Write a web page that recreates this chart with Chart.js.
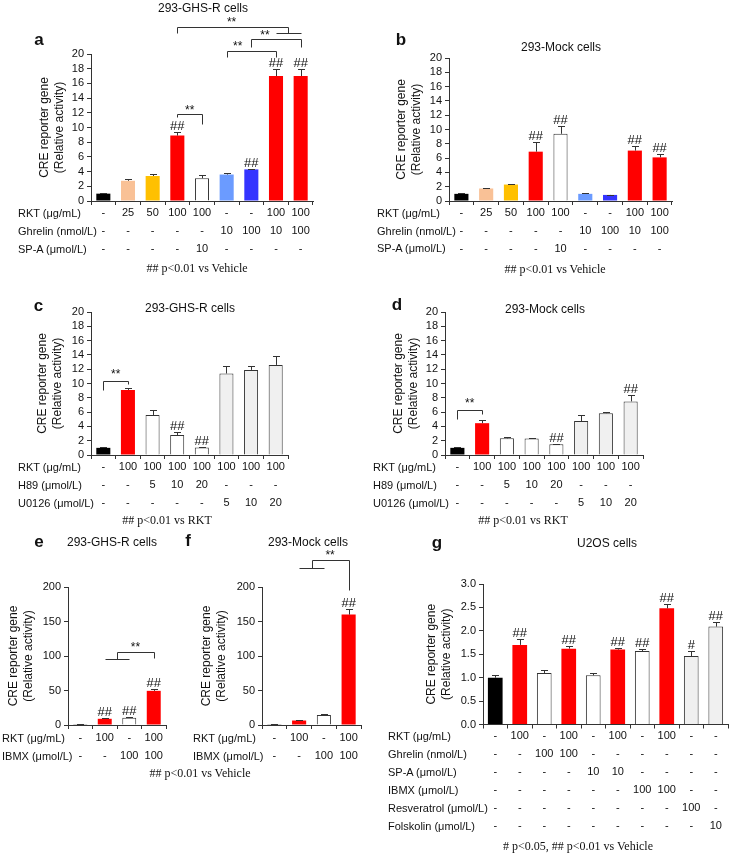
<!DOCTYPE html>
<html><head><meta charset="utf-8">
<script src="https://cdn.jsdelivr.net/npm/chart.js@4.4.1/dist/chart.umd.min.js"></script>
<style>
html,body{margin:0;padding:0;background:#fff;}
body{width:729px;height:853px;position:relative;overflow:hidden;font-family:"Liberation Sans",Arial,sans-serif;color:#111;}
.t{position:absolute;white-space:nowrap;line-height:1;}
.c{transform:translate(-50%,-50%);}
.l{transform:translateY(-50%);}
.letter{font-weight:bold;font-size:17px;}
.title{font-size:12px;}
.row{font-size:11px;}
.foot{font-family:"Liberation Serif","Times New Roman",serif;font-size:12px;}
.wrap{position:absolute;}
</style></head><body>
<script>
// ---------------- DATA ----------------
// Panel a (293-GHS-R cells)
const aRKT     = ['-','25','50','100','100','-','-','100','100'];
const aGhrelin = ['-','-','-','-','-','10','100','10','100'];
const aSPA     = ['-','-','-','-','10','-','-','-','-'];
const aValues  = [1.0, 2.75, 3.4, 8.9, 3.1, 3.6, 4.3, 17.0, 17.0];
const aErrors  = [0.08, 0.25, 0.25, 0.45, 0.45, 0.25, 0.1, 1.0, 1.0];
const aSig     = ['', '', '', '##', '', '', '##', '##', '##'];
// brackets: [fromCat, toCat, level, leftEnd, rightEnd]
const aBrackets = [[3,4,11.8,11.4,10.5],[5,7,20.45,19.6,19.6],[6,8,22.0,21.0,21.0],[3,7.5,23.7,22.9,22.9],[7,8,22.9,22.9,22.9]];
const aStars    = [[3.5,12.8],[5.45,21.5],[6.55,22.95],[5.2,24.8]];

// Panel b (293-Mock cells)
const bValues  = [1.0, 1.75, 2.3, 6.9, 9.4, 1.0, 0.85, 7.05, 6.1];
const bErrors  = [0.1, 0.1, 0.08, 1.3, 1.1, 0.08, 0.05, 0.65, 0.45];
const bSig     = ['', '', '', '##', '##', '', '', '##', '##'];

// Panels c, d conditions
const cdRKT    = ['-','100','100','100','100','100','100','100'];
const cdH89    = ['-','-','5','10','20','-','-','-'];
const cdU0126  = ['-','-','-','-','-','5','10','20'];
const cValues  = [1.0, 9.1, 5.6, 2.8, 1.05, 11.4, 11.9, 12.6];
const cErrors  = [0.1, 0.25, 0.75, 0.45, 0.05, 1.05, 0.6, 1.3];
const cSig     = ['', '', '', '##', '##', '', '', ''];
const cBrackets = [[0,1,10.4,9.1,9.9]];
const cStars    = [[0.5,11.7]];
const dValues  = [1.0, 4.45, 2.33, 2.3, 1.52, 4.75, 5.85, 7.5];
const dErrors  = [0.1, 0.45, 0.25, 0.12, 0.08, 0.85, 0.12, 0.85];
const dSig     = ['', '', '', '', '##', '', '', '##'];
const dBrackets = [[0,1,6.3,5.0,5.7]];
const dStars    = [[0.5,7.7]];

// Panels e, f conditions
const efRKT    = ['-','100','-','100'];
const efIBMX   = ['-','-','100','100'];
const eValues  = [1, 9, 10.5, 49.5];
const eErrors  = [0.5, 1.8, 1.2, 2.8];
const eSig     = ['', '##', '##', '##'];
const eBrackets = [[1.5,3,106,95.7,97],[1,2,95.7,95.7,95.7]];
const eStars    = [[2.25,117]];
const fValues  = [1, 6.5, 14.5, 160];
const fErrors  = [0.5, 1.0, 1.5, 8];
const fSig     = ['', '', '', '##'];
const fBrackets = [[1.5,3,239,227.5,195],[1,2,227.5,227.5,227.5]];
const fStars    = [[2.25,250]];

// Panel g (U2OS cells)
const gRKT     = ['-','100','-','100','-','100','-','100','-','-'];
const gGhrelin = ['-','-','100','100','-','-','-','-','-','-'];
const gSPA     = ['-','-','-','-','10','10','-','-','-','-'];
const gIBMX    = ['-','-','-','-','-','-','100','100','-','-'];
const gResv    = ['-','-','-','-','-','-','-','-','100','-'];
const gFors    = ['-','-','-','-','-','-','-','-','-','10'];
const gValues  = [1.0, 1.7, 1.1, 1.62, 1.05, 1.6, 1.57, 2.48, 1.46, 2.09];
const gErrors  = [0.05, 0.12, 0.07, 0.06, 0.05, 0.03, 0.05, 0.09, 0.11, 0.1];
const gSig     = ['', '##', '', '##', '', '##', '##', '##', '#', '##'];

// colours
const BLACK='#000000', PEACH='#f9c196', AMBER='#ffc000', RED='#ff0000', WHITE='#ffffff', LBLUE='#6b9bff', BLUE='#3434ff', GRAY='#f0f0f0';
const aColors = [BLACK,PEACH,AMBER,RED,WHITE,LBLUE,BLUE,RED,RED];
const cdColors = [BLACK,RED,WHITE,WHITE,WHITE,GRAY,GRAY,GRAY];
const efColors = [BLACK,RED,WHITE,RED];
const gColors = [BLACK,RED,WHITE,RED,WHITE,RED,WHITE,RED,GRAY,GRAY];

// ---------------- DRAWING ----------------
Chart.defaults.font.family = '"Liberation Sans", Arial, sans-serif';
Chart.defaults.color = '#111';
const INK = '#333';
const px = v => Math.round(v) + 0.5;

function panel(o) {
  const [bx,by,bw,bh] = o.box;
  const {L,R,T,B} = o.area;
  const wrap = document.createElement('div');
  wrap.className = 'wrap';
  wrap.style.cssText = `left:${bx}px;top:${by}px;width:${bw}px;height:${bh}px;`;
  const cv = document.createElement('canvas');
  cv.width = bw; cv.height = bh;
  cv.style.width = bw+'px'; cv.style.height = bh+'px';
  wrap.appendChild(cv); document.body.appendChild(wrap);
  const labels = o.values.map((_,i)=>o.rows.map(r=>r[i]));
  const borderW = o.colors.map(c => (c===WHITE||c===GRAY)?1:0);
  const annot = {
    id:'annot',
    afterDatasetsDraw(chart){
      const ctx = chart.ctx, xs = chart.scales.x, ys = chart.scales.y;
      const meta = chart.getDatasetMeta(0);
      ctx.save();
      ctx.strokeStyle = INK; ctx.lineWidth = 1;
      meta.data.forEach((el,i)=>{
        const x = px(el.x);
        const yTop = ys.getPixelForValue(o.values[i]+o.errors[i]);
        ctx.beginPath();
        ctx.moveTo(x, el.y); ctx.lineTo(x, px(yTop));
        ctx.moveTo(x-3.5, px(yTop)); ctx.lineTo(x+3.5, px(yTop));
        ctx.stroke();
        if (o.sig[i]) {
          ctx.fillStyle = '#111';
          ctx.font = '13px "Liberation Sans", Arial, sans-serif';
          ctx.textAlign = 'center'; ctx.textBaseline = 'alphabetic';
          ctx.fillText(o.sig[i], el.x, yTop - 2);
        }
      });
      (o.brackets||[]).forEach(b=>{
        const x1 = px(xs.getPixelForValue(b[0])), x2 = px(xs.getPixelForValue(b[1]));
        const y = px(ys.getPixelForValue(b[2]));
        const y1 = px(ys.getPixelForValue(b[3])), y2 = px(ys.getPixelForValue(b[4]));
        ctx.beginPath();
        ctx.moveTo(x1,y1); ctx.lineTo(x1,y); ctx.lineTo(x2,y); ctx.lineTo(x2,y2);
        ctx.stroke();
      });
      (o.stars||[]).forEach(s=>{
        ctx.fillStyle = '#111';
        ctx.font = '12px "Liberation Sans", Arial, sans-serif';
        ctx.textAlign = 'center'; ctx.textBaseline = 'alphabetic';
        ctx.fillText('**', xs.getPixelForValue(s[0]), ys.getPixelForValue(s[1]) + 6.8);
      });
      ctx.restore();
    }
  };
  new Chart(cv, {
    type:'bar',
    data:{labels, datasets:[{data:o.values, backgroundColor:o.colors, borderColor:INK, borderWidth:borderW, barPercentage:o.barPct, categoryPercentage:1}]},
    options:{
      responsive:false, animation:false, devicePixelRatio:1,
      layout:{autoPadding:false, padding:{left:o.scaleLeft-bx, top:T-by, right:bx+bw-R, bottom:0}},
      plugins:{legend:{display:false}, tooltip:{enabled:false}, title:{display:false}},
      scales:{
        x:{
          grid:{display:true, drawOnChartArea:false, drawTicks:true, tickLength:4, color:INK, lineWidth:1, offset:true},
          border:{display:true, color:INK, width:1},
          ticks:{autoSkip:false, maxRotation:0, minRotation:0, padding:o.rowPad, color:'#111', font:{size:11, lineHeight:'18px'}},
          afterFit:s=>{ s.height = by+bh-B; }
        },
        y:{
          min:0, max:o.yMax,
          ticks:{autoSkip:false, stepSize:o.yStep, padding:3, color:'#111', font:{size:11}, callback:v=> o.yDec ? Number(v).toFixed(1) : String(v)},
          grid:{display:true, drawOnChartArea:false, drawTicks:true, tickLength:4, color:INK},
          border:{display:true, color:INK, width:1},
          title:{display:true, text:['CRE reporter gene','(Relative activity)'], color:'#111', font:{size:12, lineHeight:'15px'}, padding:0},
          afterFit:s=>{ s.width = L - o.scaleLeft; }
        }
      }
    },
    plugins:[annot]
  });
}

panel({box:[0,0,340,262], area:{L:91,R:313,T:54,B:201}, scaleLeft:37.5, rowPad:-1,
  rows:[aRKT,aGhrelin,aSPA], values:aValues, errors:aErrors, sig:aSig, colors:aColors,
  brackets:aBrackets, stars:aStars, yMax:20, yStep:2, barPct:0.57});
panel({box:[360,0,369,262], area:{L:449,R:672,T:58,B:201}, scaleLeft:394.5, rowPad:-1,
  rows:[aRKT,aGhrelin,aSPA], values:bValues, errors:bErrors, sig:bSig, colors:aColors,
  yMax:20, yStep:2, barPct:0.57});
panel({box:[0,290,340,220], area:{L:91,R:288,T:312,B:455}, scaleLeft:35, rowPad:-1.5,
  rows:[cdRKT,cdH89,cdU0126], values:cValues, errors:cErrors, sig:cSig, colors:cdColors,
  brackets:cBrackets, stars:cStars, yMax:20, yStep:2, barPct:0.57});
panel({box:[360,290,369,220], area:{L:445,R:643,T:312,B:455}, scaleLeft:391.5, rowPad:-1.5,
  rows:[cdRKT,cdH89,cdU0126], values:dValues, errors:dErrors, sig:dSig, colors:cdColors,
  brackets:dBrackets, stars:dStars, yMax:20, yStep:2, barPct:0.57});
panel({box:[0,560,180,205], area:{L:68,R:166,T:587,B:725}, scaleLeft:6.5, rowPad:0,
  rows:[efRKT,efIBMX], values:eValues, errors:eErrors, sig:eSig, colors:efColors,
  brackets:eBrackets, stars:eStars, yMax:200, yStep:50, barPct:0.57});
panel({box:[185,540,180,225], area:{L:262,R:361,T:587,B:725}, scaleLeft:199.5, rowPad:0,
  rows:[efRKT,efIBMX], values:fValues, errors:fErrors, sig:fSig, colors:efColors,
  brackets:fBrackets, stars:fStars, yMax:200, yStep:50, barPct:0.57});
panel({box:[420,560,309,280], area:{L:483,R:728,T:584,B:724.5}, scaleLeft:424.5, rowPad:-1.5,
  rows:[gRKT,gGhrelin,gSPA,gIBMX,gResv,gFors], values:gValues, errors:gErrors, sig:gSig, colors:gColors,
  yMax:3, yStep:0.5, yDec:true, barPct:0.6});

// ---------------- TEXT ----------------
const texts = [
  ['a','letter c',39,39],['293-GHS-R cells','title c',203,8],
  ['RKT (μg/mL)','row l',18,213],['Ghrelin (nmol/L)','row l',18,231],['SP-A (μmol/L)','row l',18,249],
  ['## p<0.01 vs Vehicle','foot c',197,268],
  ['b','letter c',401,39],['293-Mock cells','title c',561,47],
  ['RKT (μg/mL)','row l',377,213],['Ghrelin (nmol/L)','row l',377,231],['SP-A (μmol/L)','row l',377,248],
  ['## p<0.01 vs Vehicle','foot c',555,269],
  ['c','letter c',38.5,305],['293-GHS-R cells','title c',190,308],
  ['RKT (μg/mL)','row l',18,466.5],['H89 (μmol/L)','row l',18,484.5],['U0126 (μmol/L)','row l',18,502.5],
  ['## p<0.01 vs RKT','foot c',167,520],
  ['d','letter c',397,304],['293-Mock cells','title c',545,309],
  ['RKT (μg/mL)','row l',373,466.5],['H89 (μmol/L)','row l',373,484.5],['U0126 (μmol/L)','row l',373,502.5],
  ['## p<0.01 vs RKT','foot c',523,520],
  ['e','letter c',39,541],['293-GHS-R cells','title c',112,542],
  ['RKT (μg/mL)','row l',2,738],['IBMX (μmol/L)','row l',2,756],
  ['## p<0.01 vs Vehicle','foot c',200,773],
  ['f','letter c',188,540],['293-Mock cells','title c',308,542],
  ['RKT (μg/mL)','row l',193,738],['IBMX (μmol/L)','row l',193,756],
  ['g','letter c',437,542],['U2OS cells','title c',607,543],
  ['RKT (μg/mL)','row l',388,736],['Ghrelin (nmol/L)','row l',388,754],['SP-A (μmol/L)','row l',388,772],
  ['IBMX (μmol/L)','row l',388,790],['Resveratrol (μmol/L)','row l',388,808],['Folskolin (μmol/L)','row l',388,826],
  ['# p<0.05, ## p<0.01 vs Vehicle','foot c',578,846]
];
texts.forEach(([s,cls,x,y])=>{
  const d = document.createElement('div');
  d.className = 't '+cls;
  d.style.left = x+'px'; d.style.top = y+'px';
  d.textContent = s;
  document.body.appendChild(d);
});
</script>
</body></html>
